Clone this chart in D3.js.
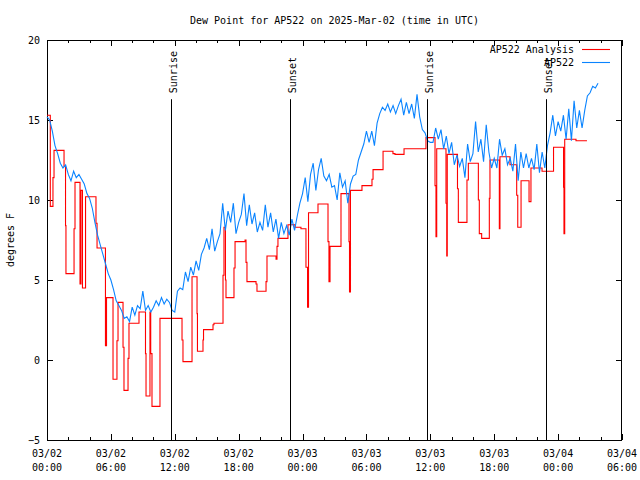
<!DOCTYPE html>
<html><head><meta charset="utf-8">
<script src="https://cdn.jsdelivr.net/npm/d3@7"></script>
<style>
body{margin:0;background:#fff}
svg text{font-family:"DejaVu Sans Mono","Liberation Mono",monospace;font-size:10px;fill:#000}
</style>
</head><body>
<svg id="chart" width="640" height="480"></svg>
<script>
// ---------- data ----------
const chartTitle = "Dew Point for AP522 on 2025-Mar-02 (time in UTC)";
const yAxisLabel = "degrees F";
const seriesNames = ["AP522 Analysis", "AP522"];
const xStart = "2025-03-02T00:00:00Z";
const xEnd = "2025-03-04T06:00:00Z";
const yDomain = [-5, 20];
const yTickValues = [-5, 0, 5, 10, 15, 20];
const xTickHours = 6;
const xMinorHours = 2;

// AP522 observations, every 15 minutes from 03/02 00:00 UTC
const obsStart = "2025-03-02T00:00:00Z";
const obsStepMinutes = 15;
const obsValues = [
  15.2, 15.0, 14.3, 13.4,  12.9, 12.3, 12.0, 12.2,  11.6, 11.2, 11.8, 11.4,
  11.6, 11.3, 11.0, 10.4,  10.1, 9.5, 8.6, 7.8,     7.2, 6.6, 6.0, 5.4,
  5.0, 4.4, 3.7, 3.4,      3.1, 2.6, 2.7, 2.4,      3.3, 2.8, 3.4, 3.2,
  4.3, 3.1, 3.4, 3.0,      3.3, 3.7, 3.4, 3.9,      3.5, 3.8, 3.6, 3.1,
  3.0, 4.3, 4.5, 4.4,      5.5, 4.9, 5.8, 5.3,      6.2, 5.6, 6.6, 7.0,
  7.6, 6.9, 8.2, 6.8,      7.4, 7.9, 9.8, 8.1,      9.3, 8.6, 9.8, 7.9,
  8.6, 9.1, 10.4, 8.4,     9.7, 8.5, 9.2, 8.0,      8.6, 8.1, 9.7, 8.3,
  9.2, 8.0, 8.8, 7.6,      8.6, 7.9, 8.4, 7.8,      8.8, 8.1, 9.0, 9.8,
  10.4, 11.4, 9.9, 11.6,   12.3, 10.6, 11.9, 12.6,  11.5, 11.2, 11.6, 10.8,
  10.9, 10.0, 11.7, 10.8,  11.2, 9.8, 11.0, 11.5,   11.6, 12.5, 13.0, 13.5,
  14.3, 13.6, 14.3, 13.4,  14.8, 15.4, 15.8, 15.6,  16.0, 15.5, 15.9, 15.4,
  15.9, 16.3, 15.3, 16.1,  15.4, 16.0, 15.1, 16.6,  15.2, 14.4, 14.2, 13.7,
  13.6, 13.6, 14.5, 13.8,  14.4, 13.2, 14.0, 12.9,  13.6, 12.2, 12.8, 12.1,
  12.6, 11.4, 13.5, 12.4,  12.9, 14.9, 13.0, 13.8,  12.4, 14.7, 13.0, 12.0,
  12.6, 12.0, 13.8, 12.8,  13.2, 12.2, 12.6, 11.8,  13.5, 11.2, 13.0, 12.0,
  12.9, 12.0, 12.6, 11.9,  13.5, 11.7, 13.0, 12.0,  13.4, 14.2, 15.3, 14.0,
  14.9, 14.3, 15.3, 13.8,  15.7, 13.7, 16.2, 14.5,  15.6, 14.5, 15.6, 16.5,
  16.7, 17.1, 17.0, 17.3
];

// AP522 Analysis, step values: hours after 03/02 00:00 UTC and value
const analysisHours = [
  0.00, 0.31, 0.56, 0.66, 1.60, 1.74, 1.78, 2.54, 2.63, 3.10, 3.19, 3.33, 3.62,
  4.60, 4.70, 5.49, 5.59, 6.20, 6.57, 6.67, 7.14, 7.23, 7.61, 7.70, 8.64,
  9.25, 9.30, 9.67, 9.74, 9.86, 10.61, 12.68, 12.77, 13.62, 14.09, 14.13,
  14.65, 14.70, 15.59, 15.68, 16.53, 16.62, 16.76, 16.81, 17.56, 17.66,
  18.60, 18.69, 18.78, 19.63, 19.72, 20.57, 20.66, 21.51, 21.60, 21.69,
  22.63, 23.29, 23.85, 24.32, 24.47, 24.56, 25.45, 26.39, 26.48, 26.58,
  27.61, 28.36, 28.41, 28.50, 29.58, 30.52, 30.62, 31.56, 32.49, 32.68,
  33.53, 35.59, 36.44, 36.53, 36.60, 37.47, 37.54, 37.59, 38.55, 38.63,
  39.44, 39.57, 40.51, 40.60, 40.82, 41.54, 41.60, 42.48, 42.54, 43.48,
  44.11, 44.21, 44.52, 45.27, 45.45, 46.49, 47.57, 48.51, 48.55, 48.62,
  49.68, 50.71
];
const analysisValues = [
  15.3, 9.6, 11.4, 13.1, 12.1, 8.4, 5.4, 8.2, 11.1, 4.75, 10.6, 4.5, 10.2,
  8.55, 7.0, 0.9, 3.9, -1.2, 1.2, 3.6, 0.8, -1.9, 0.1, 2.3, 3.0,
  0.4, -2.25, 3.0, 0.4, -2.9, 2.6, 1.25, -0.1, 5.2, 2.9, 0.55,
  1.25, 1.9, 2.2, 2.3, 5.3, 8.3, 5.0, 3.9, 5.75, 7.4,
  7.5, 6.1, 4.9, 4.75, 4.3, 4.9, 6.5, 6.3, 7.1, 7.6,
  8.45, 8.3, 8.2, 5.8, 3.3, 9.2, 9.75, 7.4, 4.9, 7.1,
  10.4, 7.4, 4.25, 10.6, 10.9, 11.3, 11.9, 13.05, 12.9, 12.85,
  13.2, 13.9, 10.9, 7.7, 13.2, 9.8, 6.5, 12.85, 10.7, 8.6,
  11.25, 12.3, 10.0, 7.9, 7.6, 10.1, 12.5, 8.2, 12.7, 12.2,
  10.3, 8.3, 11.2, 9.9, 12.0, 11.8, 13.3, 10.8, 7.9, 13.8,
  13.7, 13.7
];

// Sun events
const sunLabels = ["Sunrise", "Sunset", "Sunrise", "Sunset"];
const sunTimes = ["2025-03-02T11:41:00Z", "2025-03-02T22:51:00Z", "2025-03-03T11:39:00Z", "2025-03-03T22:52:00Z"];

// ---------- drawing ----------
const svg = d3.select("#chart");
const W = 640, H = 480;
const m = {left: 47, right: 622, top: 40, bottom: 440};
const HOUR = 3600 * 1000;

const x = d3.scaleUtc().domain([new Date(xStart), new Date(xEnd)]).range([m.left, m.right]);
const y = d3.scaleLinear().domain(yDomain).range([m.bottom, m.top]);

const t0 = new Date(xStart).getTime();
const majorTicks = d3.range(0, 54 + 0.001, xTickHours).map(h => new Date(t0 + h * HOUR));
const minorTicks = d3.range(0, 54 + 0.001, xMinorHours).filter(h => h % xTickHours !== 0).map(h => new Date(t0 + h * HOUR));

const fmtDate = d3.utcFormat("%m/%d"), fmtTime = d3.utcFormat("%H:%M");

function styleAxis(g) {
  g.select(".domain").remove();
  g.selectAll("line").attr("stroke", "#000").attr("stroke-width", 1).attr("shape-rendering", "crispEdges");
  g.selectAll("text").attr("font-family", null).attr("font-size", null);
}

// bottom axis: major
const gB = svg.append("g").attr("transform", `translate(0,${m.bottom})`)
  .call(d3.axisBottom(x).tickValues(majorTicks).tickSize(-6).tickPadding(0).tickFormat(""));
styleAxis(gB);
gB.selectAll(".tick text").remove();
// two-line labels
const lbl = svg.append("g");
majorTicks.forEach(d => {
  const t = lbl.append("text").attr("text-anchor", "middle");
  t.append("tspan").attr("x", x(d)).attr("y", 456.5).text(fmtDate(d));
  t.append("tspan").attr("x", x(d)).attr("y", 470.5).text(fmtTime(d));
});
// bottom minor
styleAxis(svg.append("g").attr("transform", `translate(0,${m.bottom})`)
  .call(d3.axisBottom(x).tickValues(minorTicks).tickSize(-3).tickFormat("")));
// top major / minor (mirror)
styleAxis(svg.append("g").attr("transform", `translate(0,${m.top})`)
  .call(d3.axisTop(x).tickValues(majorTicks).tickSize(-6).tickFormat("")));
styleAxis(svg.append("g").attr("transform", `translate(0,${m.top})`)
  .call(d3.axisTop(x).tickValues(minorTicks).tickSize(-3).tickFormat("")));

// left axis
const gL = svg.append("g").attr("transform", `translate(${m.left},0)`)
  .call(d3.axisLeft(y).tickValues(yTickValues).tickSize(-6).tickPadding(7).tickFormat(d3.format("d")));
styleAxis(gL);
// right axis mirror
styleAxis(svg.append("g").attr("transform", `translate(${m.right},0)`)
  .call(d3.axisRight(y).tickValues(yTickValues).tickSize(-6).tickFormat("")));

// frame
svg.append("rect").attr("x", m.left + 0.5).attr("y", m.top + 0.5)
  .attr("width", m.right - m.left - 1).attr("height", m.bottom - m.top)
  .attr("fill", "none").attr("stroke", "#000").attr("stroke-width", 1);

// title + y label
svg.append("text").attr("x", (m.left + m.right) / 2).attr("y", 24).attr("text-anchor", "middle").text(chartTitle);
svg.append("text").attr("transform", "translate(14,240) rotate(-90)").attr("text-anchor", "middle").text(yAxisLabel);

// series data
const analysis = analysisHours.map((h, i) => ({t: new Date(t0 + h * HOUR), v: analysisValues[i]}));
const obsT0 = new Date(obsStart).getTime();
const obs = obsValues.map((v, i) => ({t: new Date(obsT0 + i * obsStepMinutes * 60000), v}));

const lineStep = d3.line().x(d => x(d.t)).y(d => y(d.v)).curve(d3.curveStepAfter);
const lineLin = d3.line().x(d => x(d.t)).y(d => y(d.v));

svg.append("path").datum(analysis).attr("d", lineStep)
  .attr("fill", "none").attr("stroke", "#ff0000").attr("stroke-width", 1.1);
svg.append("path").datum(obs).attr("d", lineLin)
  .attr("fill", "none").attr("stroke", "#0a84ff").attr("stroke-width", 1.1);

// sun lines
sunTimes.forEach((s, i) => {
  const xv = Math.round(x(new Date(s))) + 0.5;
  svg.append("line").attr("x1", xv).attr("x2", xv).attr("y1", y(16.3)).attr("y2", m.bottom)
    .attr("stroke", "#000").attr("stroke-width", 1);
  svg.append("text").attr("transform", `translate(${xv + 5},${y(16.3) - 6}) rotate(-90)`)
    .attr("text-anchor", "start").text(sunLabels[i]);
});

// legend
const legColors = ["#ff0000", "#0a84ff"];
seriesNames.forEach((n, i) => {
  const yy = 49.5 + i * 13;
  svg.append("text").attr("x", 574).attr("y", yy + 3.5).attr("text-anchor", "end").text(n);
  svg.append("line").attr("x1", 582).attr("x2", 610).attr("y1", yy).attr("y2", yy)
    .attr("stroke", legColors[i]).attr("stroke-width", 1.1);
});
</script>
</body></html>
